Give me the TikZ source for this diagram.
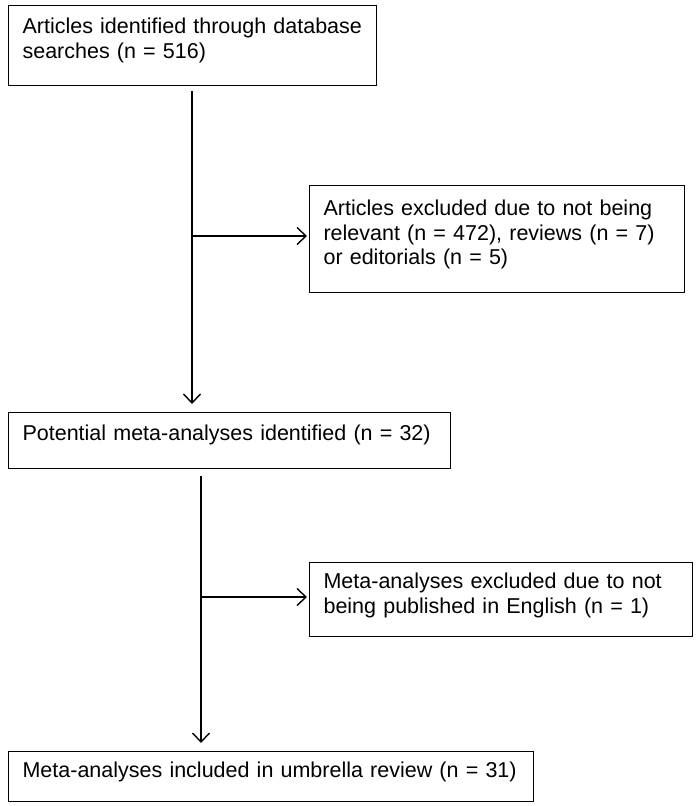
\documentclass[tikz,border=0pt]{standalone}
\usepackage{fontspec}
\setmainfont{Liberation Sans}
\usetikzlibrary{arrows.meta}
\begin{document}
\begin{tikzpicture}[x=1pt,y=1pt,
  flowbox/.style={draw, line width=1.1pt, anchor=north west, inner xsep=14pt, inner ysep=0pt,
    align=left, text height=28pt, font=\fontsize{21.5pt}{24.5pt}\selectfont},
  flowarrow/.style={line width=1.4pt, -{Straight Barb[length=9pt,width=17pt,line width=1.4pt]}}]
\useasboundingbox (0,0) rectangle (696,-806);
\node[flowbox, text width=340pt, text depth=52pt] (b1) at (8,-5)
  {\mbox{Articles identified through database}\\searches (n = 516)};
\node[flowbox, text width=347pt, text height=30pt, text depth=77pt] (b2) at (309,-185)
  {Articles excluded due to not being\\relevant (n = 472), reviews (n = 7)\\or editorials (n = 5)};
\node[flowbox, text width=414pt, text depth=28pt] (b3) at (8,-412)
  {Potential meta-analyses identified (n = 32)};
\node[flowbox, text width=355pt, text height=26pt, text depth=48pt] (b4) at (309,-562)
  {Meta-analyses excluded due to not\\being published in English (n = 1)};
\node[flowbox, text width=497pt, text height=26pt, text depth=24pt] (b5) at (8,-751)
  {Meta-analyses included in umbrella review (n = 31)};
\coordinate (j1) at (192,-236);
\coordinate (j2) at (201,-597);
\draw[flowarrow] ([yshift=-5pt]b1.south -| j1) -- ([yshift=8pt]b3.north -| j1);
\draw[flowarrow] (j1) -- ([xshift=-2pt]b2.west |- j1);
\draw[flowarrow] ([yshift=-7pt]b3.south -| j2) -- ([yshift=8pt]b5.north -| j2);
\draw[flowarrow] (j2) -- ([xshift=-2pt]b4.west |- j2);
\end{tikzpicture}
\end{document}
